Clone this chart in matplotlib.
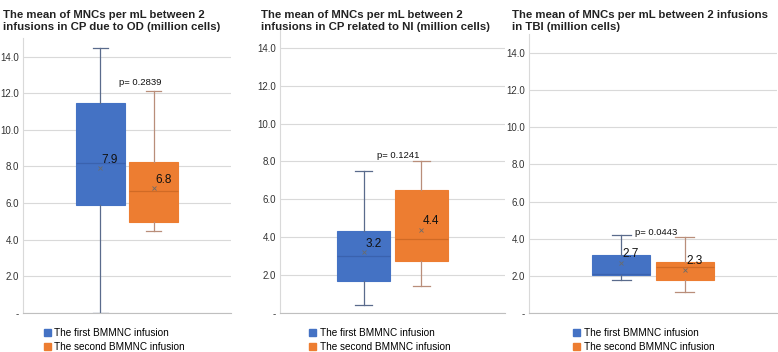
import matplotlib
matplotlib.use("Agg")
import matplotlib.pyplot as plt
from matplotlib.patches import Patch

plt.rcParams['font.family'] = ['Liberation Sans', 'DejaVu Sans']

titles = [
    "The mean of MNCs per mL between 2\ninfusions in CP due to OD (million cells)",
    "The mean of MNCs per mL between 2\ninfusions in CP related to NI (million cells)",
    "The mean of MNCs per mL between 2 infusions\nin TBI (million cells)",
]
series_names = ["The first BMMNC infusion", "The second BMMNC infusion"]

# per panel: [first infusion, second infusion]
whisker_low = [[0.0, 4.5], [0.42, 1.4], [1.75, 1.14]]
q1 = [[5.87, 4.96], [1.68, 2.76], [2.07, 1.77]]
median = [[8.2, 6.64], [2.99, 3.91], [2.1, 2.48]]
q3 = [[11.47, 8.24], [4.34, 6.5], [3.14, 2.77]]
whisker_high = [[14.5, 12.1], [7.5, 8.0], [4.18, 4.11]]
means = [[7.9, 6.8], [3.2, 4.4], [2.7, 2.3]]
p_values = ["p= 0.2839", "p= 0.1241", "p= 0.0443"]
p_pos = [(1.75, 12.6), (1.6, 8.3), (1.55, 4.35)]

y_ticks = [0, 2, 4, 6, 8, 10, 12, 14]
y_ticklabels = ["-", "2.0", "4.0", "6.0", "8.0", "10.0", "12.0", "14.0"]

box_colors = ["#4472C4", "#ED7D31"]
whisker_colors = ["#5A6B8C", "#B98E7A"]
median_colors = ["#3A62AE", "#D06A25"]

# figure-pixel layout of the three plot areas
axes_rects = [
    [23 / 778, 0.111, 208 / 778, 0.780],
    [280 / 778, 0.111, 225 / 778, 0.807],
    [529 / 778, 0.111, 248 / 778, 0.791],
]
title_x = [3 / 778, 261 / 778, 512 / 778]
legend_x = [37 / 778, 302 / 778, 566 / 778]

fig = plt.figure(figsize=(7.78, 3.52), dpi=100)

for i in range(3):
    ax = fig.add_axes(axes_rects[i])
    for j in range(2):
        stats = [{
            'whislo': whisker_low[i][j], 'q1': q1[i][j], 'med': median[i][j],
            'q3': q3[i][j], 'whishi': whisker_high[i][j], 'mean': means[i][j],
        }]
        ax.bxp(stats, positions=[j + 1], widths=0.92, patch_artist=True,
               showmeans=True, showfliers=False, capwidths=0.3,
               boxprops=dict(facecolor=box_colors[j], edgecolor=box_colors[j], lw=0.8),
               medianprops=dict(color=median_colors[j], lw=0.9),
               whiskerprops=dict(color=whisker_colors[j], lw=0.9),
               capprops=dict(color=whisker_colors[j], lw=0.9),
               meanprops=dict(marker='x', markersize=3, markeredgecolor='#6b6b6b',
                              markeredgewidth=0.6))
        ax.annotate(f"{means[i][j]:.1f}", (j + 1, means[i][j]),
                    xytext=(1, 2), textcoords='offset points',
                    ha='left', va='bottom', fontsize=8.5, color='#111111')

    ax.text(p_pos[i][0], p_pos[i][1], p_values[i], ha='center', va='center',
            fontsize=6.8, color='#111111')

    ax.set_xlim(1.5 - 1.96, 1.5 + 1.96)
    ax.set_ylim(0, 15)
    ax.set_yticks(y_ticks)
    ax.set_yticklabels(y_ticklabels)
    ax.set_xticks([])
    ax.tick_params(axis='y', length=0, labelsize=7, colors='#333333', pad=3)
    ax.grid(axis='y', color='#d9d9d9', lw=0.8)
    ax.set_axisbelow(True)
    for s in ['top', 'right']:
        ax.spines[s].set_visible(False)
    ax.spines['left'].set_color('#d9d9d9')
    ax.spines['left'].set_linewidth(0.8)
    ax.spines['bottom'].set_color('#bfbfbf')
    ax.spines['bottom'].set_linewidth(0.8)

    fig.text(title_x[i], 0.972, titles[i], ha='left', va='top',
             fontsize=8.2, fontweight='bold', color='#222222', linespacing=1.3)

    handles = [Patch(facecolor=c, edgecolor=c) for c in box_colors]
    ax.legend(handles, series_names, loc='upper left',
              bbox_to_anchor=(legend_x[i], 0.086), bbox_transform=fig.transFigure,
              frameon=False, fontsize=7.2,
              handlelength=0.7, handleheight=0.7, handletextpad=0.4,
              labelspacing=0.35, borderpad=0.15)

fig.savefig("out.png", dpi=100)
